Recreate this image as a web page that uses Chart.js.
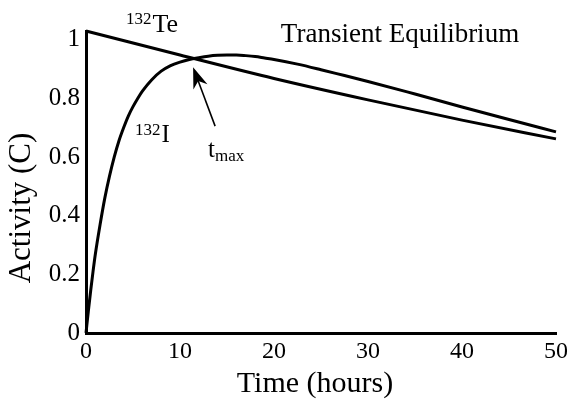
<!DOCTYPE html>
<html>
<head>
<meta charset="utf-8">
<script src="https://cdn.jsdelivr.net/npm/chart.js@4.4.1/dist/chart.umd.min.js"></script>
<style>
  html, body { margin: 0; padding: 0; background: #fff; }
  #wrap { width: 567px; height: 402px; position: relative; }
</style>
</head>
<body>
<div id="wrap"><canvas id="chart" width="567" height="402"></canvas></div>
<script>
// Parent nuclide 132Te: activity vs. time (hours)
const timeTe = [0, 10, 20, 30, 40, 50];
const activityTe = [1.03, 0.948, 0.868, 0.795, 0.726, 0.662];

// Daughter nuclide 132I: grows in, peaks, then decays with the parent
const timeI = [0, 0.25, 0.5, 0.75, 1, 1.5, 2, 2.5, 3, 3.5, 4, 4.5, 5, 5.5, 6, 7, 8, 9, 10, 11, 12, 13, 14, 15, 16, 17, 18, 19, 20, 22.5, 25, 27.5, 30, 35, 40, 45, 50];
const activityI = [0, 0.075, 0.145, 0.21, 0.27, 0.37, 0.46, 0.535, 0.60, 0.655, 0.70, 0.74, 0.772, 0.80, 0.825, 0.864, 0.893, 0.912, 0.924, 0.933, 0.939, 0.944, 0.947, 0.948, 0.948, 0.946, 0.943, 0.938, 0.933, 0.917, 0.898, 0.878, 0.858, 0.815, 0.771, 0.728, 0.686];

// Axis ticks
const xTicks = [0, 10, 20, 30, 40, 50];
const yTicks = [0, 0.2, 0.4, 0.6, 0.8, 1];

// Time of maximum daughter activity (where the curves cross)
const tMax = 11.5;
const tMaxActivity = 0.934;

const SERIF = '"Liberation Serif", "Times New Roman", serif';

function toPoints(xs, ys) {
  return xs.map((x, i) => ({ x: x, y: ys[i] }));
}

// Text with a superscript prefix, e.g. 132Te
function drawNuclide(ctx, mass, symbol, x, baseline, supSize, mainSize) {
  ctx.textAlign = 'left';
  ctx.textBaseline = 'alphabetic';
  ctx.font = supSize + 'px ' + SERIF;
  ctx.fillText(mass, x, baseline - mainSize * 0.3);
  const w = ctx.measureText(mass).width;
  ctx.font = mainSize + 'px ' + SERIF;
  ctx.fillText(symbol, x + w + 1, baseline);
}

const annotations = {
  id: 'annotations',
  afterDraw(chart) {
    const ctx = chart.ctx;
    const xs = chart.scales.x, ys = chart.scales.y;
    ctx.save();
    ctx.fillStyle = '#000';
    ctx.strokeStyle = '#000';

    // Title inside the plot
    ctx.font = '27px ' + SERIF;
    ctx.textAlign = 'center';
    ctx.textBaseline = 'alphabetic';
    ctx.fillText('Transient Equilibrium', 400, 42);

    // Curve labels
    drawNuclide(ctx, '132', 'Te', 126, 32, 17, 26);
    drawNuclide(ctx, '132', 'I', 135, 142, 17, 25);

    // t_max label
    ctx.font = '25px ' + SERIF;
    ctx.textAlign = 'left';
    ctx.fillText('t', 208, 157);
    const tw = ctx.measureText('t').width;
    ctx.font = '17px ' + SERIF;
    ctx.fillText('max', 208 + tw, 161);

    // Arrow pointing at the crossing
    const cx = xs.getPixelForValue(tMax);
    const cy = ys.getPixelForValue(tMaxActivity);
    const tipX = cx - 1, tipY = cy + 8;
    const tailX = cx + 21, tailY = cy + 67;
    const ang = Math.atan2(tipY - tailY, tipX - tailX);
    const headLen = 21, headHalf = 7.5;
    const nx = tipX - Math.cos(ang) * headLen * 0.7, ny = tipY - Math.sin(ang) * headLen * 0.7;
    ctx.lineWidth = 1.6;
    ctx.beginPath();
    ctx.moveTo(tailX, tailY);
    ctx.lineTo(nx, ny);
    ctx.stroke();
    ctx.beginPath();
    ctx.moveTo(tipX, tipY);
    const bx = tipX - Math.cos(ang) * headLen, by = tipY - Math.sin(ang) * headLen;
    ctx.lineTo(bx + Math.sin(ang) * headHalf, by - Math.cos(ang) * headHalf);
    ctx.lineTo(nx, ny);
    ctx.lineTo(bx - Math.sin(ang) * headHalf, by + Math.cos(ang) * headHalf);
    ctx.closePath();
    ctx.fill();

    // Axis titles
    ctx.font = '30px ' + SERIF;
    ctx.textAlign = 'center';
    ctx.textBaseline = 'middle';
    ctx.fillText('Time (hours)', 315, 384);
    ctx.save();
    ctx.translate(22, 208);
    ctx.rotate(-Math.PI / 2);
    ctx.font = '31px ' + SERIF;
    ctx.fillText('Activity (C)', 0, 0);
    ctx.restore();

    ctx.restore();
  }
};

new Chart(document.getElementById('chart'), {
  type: 'line',
  data: {
    datasets: [
      {
        label: '132Te',
        data: toPoints(timeTe, activityTe),
        borderColor: '#000',
        borderWidth: 3,
        pointRadius: 0,
        cubicInterpolationMode: 'monotone',
        fill: false,
        clip: 8
      },
      {
        label: '132I',
        data: toPoints(timeI, activityI),
        borderColor: '#000',
        borderWidth: 3,
        pointRadius: 0,
        cubicInterpolationMode: 'monotone',
        fill: false,
        clip: 8
      }
    ]
  },
  options: {
    responsive: false,
    animation: false,
    layout: { padding: { top: 31, right: 11, left: 0, bottom: 0 } },
    plugins: { legend: { display: false }, tooltip: { enabled: false } },
    scales: {
      x: {
        type: 'linear',
        min: 0,
        max: 50,
        afterBuildTicks(scale) { scale.ticks = xTicks.map(v => ({ value: v })); },
        afterFit(scale) { scale.height = 69; },
        grid: { display: false },
        border: { display: true, color: '#000', width: 3 },
        ticks: { color: '#000', padding: -4, font: { family: SERIF, size: 24 }, maxRotation: 0, callback: v => String(v) }
      },
      y: {
        type: 'linear',
        min: 0,
        max: 1.03,
        afterBuildTicks(scale) { scale.ticks = yTicks.map(v => ({ value: v })); },
        afterFit(scale) { scale.width = 86; },
        grid: { display: false },
        border: { display: true, color: '#000', width: 3 },
        ticks: { color: '#000', padding: -2, font: { family: SERIF, size: 25 }, callback: v => String(v) }
      }
    }
  },
  plugins: [annotations]
});
</script>
</body>
</html>
